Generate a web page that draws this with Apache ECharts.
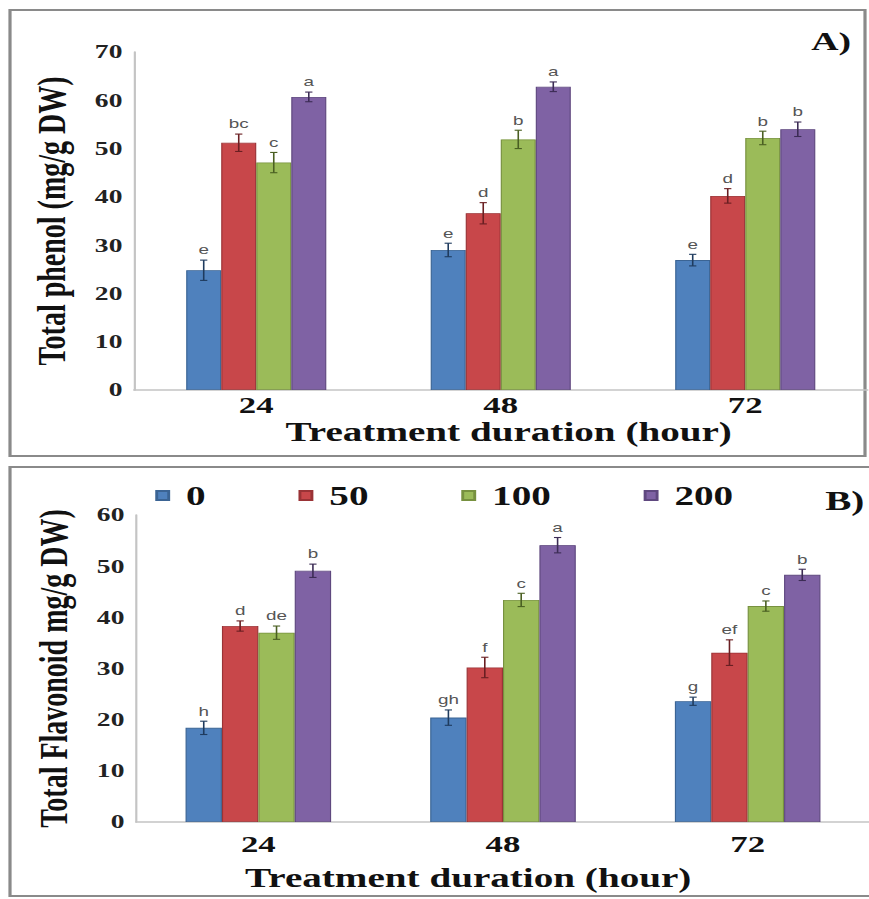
<!DOCTYPE html>
<html><head><meta charset="utf-8">
<script src="https://cdn.jsdelivr.net/npm/echarts@6/dist/echarts.min.js"></script>
<style>
html,body{margin:0;padding:0;background:#fff;overflow:hidden;width:869px;height:899px}
#wrap{width:869px;height:899px;overflow:hidden;position:relative}
#chart{width:600px;height:899px;transform:scaleX(1.45);transform-origin:0 0;position:absolute;left:0;top:0}
</style></head><body><div id="wrap"><div id="chart"></div></div>
<script>
// ---- data ----
const categories = ['24', '48', '72'];
const seriesNames = ['0', '50', '100', '200'];

const phenol0   = [24.8, 29.0, 26.9];
const phenol50  = [51.2, 36.6, 40.2];
const phenol100 = [47.1, 51.9, 52.2];
const phenol200 = [60.7, 62.8, 54.0];
const phenolErr0   = [2.1, 1.4, 1.2];
const phenolErr50  = [1.8, 2.2, 1.5];
const phenolErr100 = [2.1, 1.9, 1.4];
const phenolErr200 = [1.0, 1.0, 1.5];
const phenolLetters0   = ['e', 'e', 'e'];
const phenolLetters50  = ['bc', 'd', 'd'];
const phenolLetters100 = ['c', 'b', 'b'];
const phenolLetters200 = ['a', 'a', 'b'];

const flav0   = [18.4, 20.4, 23.6];
const flav50  = [38.3, 30.2, 33.1];
const flav100 = [37.0, 43.4, 42.2];
const flav200 = [49.1, 54.1, 48.3];
const flavErr0   = [1.3, 1.5, 0.8];
const flavErr50  = [1.0, 2.0, 2.5];
const flavErr100 = [1.3, 1.3, 1.0];
const flavErr200 = [1.3, 1.5, 1.1];
const flavLetters0   = ['h', 'gh', 'g'];
const flavLetters50  = ['d', 'f', 'ef'];
const flavLetters100 = ['de', 'c', 'c'];
const flavLetters200 = ['b', 'a', 'b'];

const phenolTicks = { min: 0, max: 70, interval: 10 };
const flavTicks = { min: 0, max: 60, interval: 10 };

// ---- styling ----
const S = 1.45; // horizontal stretch of the reference figure
const px = v => v / S;
const colors = ['#4F81BD', '#C8474A', '#9BBB59', '#7F62A4'];
const borders = ['#3b6494', '#9a3336', '#77913f', '#5f487f'];
const errColors = ['#1f3b5e', '#6a1f22', '#4a5f22', '#3c2c55'];
const serif = '"Liberation Serif", "Times New Roman", serif';

const phenolVals = [phenol0, phenol50, phenol100, phenol200];
const phenolErrs = [phenolErr0, phenolErr50, phenolErr100, phenolErr200];
const phenolLets = [phenolLetters0, phenolLetters50, phenolLetters100, phenolLetters200];
const flavVals = [flav0, flav50, flav100, flav200];
const flavErrs = [flavErr0, flavErr50, flavErr100, flavErr200];
const flavLets = [flavLetters0, flavLetters50, flavLetters100, flavLetters200];

const gapTop = 0.427, gapBot = 0.405;

function bars(vals, idx, gap) {
  return vals.map((v, s) => ({
    name: seriesNames[s], type: 'bar', xAxisIndex: idx, yAxisIndex: idx,
    data: v, barGap: '0%', barCategoryGap: (gap * 100) + '%',
    itemStyle: { color: colors[s], borderColor: borders[s], borderWidth: 0.8 },
    silent: true
  }));
}

function errSeries(vals, errs, lets, gap, idx) {
  const data = [];
  for (let s = 0; s < 4; s++) for (let c = 0; c < 3; c++) data.push([c, vals[s][c], errs[s][c], s]);
  return {
    type: 'custom', xAxisIndex: idx, yAxisIndex: idx, z: 10, silent: true,
    encode: { x: 0, y: 1 }, data,
    renderItem(params, api) {
      const c = api.value(0), v = api.value(1), e = api.value(2), s = api.value(3);
      const band = api.size([1, 0])[0];
      const group = band * (1 - gap);
      const bw = group / 4;
      const cx = api.coord([c, v])[0] - group / 2 + bw * (s + 0.5);
      const yt = api.coord([c, v + e])[1], yb = api.coord([c, v - e])[1];
      const cap = 2.5, col = errColors[s];
      const ls = { stroke: col, lineWidth: 1.1 };
      return { type: 'group', children: [
        { type: 'line', shape: { x1: cx, y1: yt, x2: cx, y2: yb }, style: ls },
        { type: 'line', shape: { x1: cx - cap, y1: yt, x2: cx + cap, y2: yt }, style: ls },
        { type: 'line', shape: { x1: cx - cap, y1: yb, x2: cx + cap, y2: yb }, style: ls },
        { type: 'text', x: cx, y: yt - 4, style: { text: lets[s][c], fill: '#555',
          font: '13px "Liberation Sans", Arial, sans-serif', align: 'center', verticalAlign: 'bottom' } }
      ] };
    }
  };
}

function xAxis(idx, margin, nameGap, pad) {
  return {
    type: 'category', gridIndex: idx, data: categories,
    axisLine: { lineStyle: { color: '#c4c4c4', width: 1.5 } },
    axisTick: { show: false },
    axisLabel: { fontFamily: serif, fontWeight: 'bold', fontSize: 24, color: '#111', margin },
    name: 'Treatment duration (hour)', nameLocation: 'middle', nameGap,
    nameTextStyle: { fontFamily: serif, fontWeight: 'bold', fontSize: 27, color: '#111', padding: pad }
  };
}
function yAxis(idx, ticks, name) {
  return {
    type: 'value', gridIndex: idx, min: ticks.min, max: ticks.max, interval: ticks.interval,
    axisLine: { show: true, lineStyle: { color: '#c4c4c4', width: 1.5 } },
    axisTick: { show: false }, splitLine: { show: false },
    axisLabel: { fontFamily: serif, fontWeight: 'bold', fontSize: 19, color: '#222', margin: 8 },
    name, nameLocation: 'middle', nameGap: 43,
    nameTextStyle: { fontFamily: serif, fontWeight: 'bold', fontSize: 28, color: '#111' }
  };
}

const chart = echarts.init(document.getElementById('chart'), null, { renderer: 'svg' });
chart.setOption({
  animation: false,
  backgroundColor: '#fff',
  title: [
    { text: 'A)', left: px(804), top: 23, textStyle: { fontFamily: serif, fontWeight: 'bold', fontSize: 26, color: '#111' } },
    { text: 'B)', left: px(818), top: 482, textStyle: { fontFamily: serif, fontWeight: 'bold', fontSize: 27, color: '#111' } }
  ],
  legend: {
    data: seriesNames, left: px(148), top: 477, icon: 'rect',
    itemWidth: px(12), itemHeight: 9, itemGap: 64, selectedMode: false,
    textStyle: { fontFamily: serif, fontWeight: 'bold', fontSize: 27, color: '#111', padding: [0, 0, 0, 7] }
  },
  grid: [
    { left: px(134), width: px(733.5), top: 52, height: 338 },
    { left: px(136), width: px(756), top: 515, height: 307 }
  ],
  xAxis: [ xAxis(0, 3, 27, [0, 0, 0, 11]), xAxis(1, 10, 42, [0, 48, 0, 0]) ],
  yAxis: [ yAxis(0, phenolTicks, 'Total phenol (mg/g DW)'), yAxis(1, flavTicks, 'Total Flavonoid mg/g DW)') ],
  graphic: [
    { type: 'rect', silent: true, z: -1, shape: { x: px(10), y: 10, width: px(855), height: 446 },
      style: { fill: 'none', stroke: '#8a8a8a', lineWidth: 2.2 } },
    { type: 'rect', silent: true, z: -1, shape: { x: px(10), y: 467, width: px(900), height: 429 },
      style: { fill: 'none', stroke: '#8a8a8a', lineWidth: 2.2 } }
  ],
  series: [
    ...bars(phenolVals, 0, gapTop),
    ...bars(flavVals, 1, gapBot),
    errSeries(phenolVals, phenolErrs, phenolLets, gapTop, 0),
    errSeries(flavVals, flavErrs, flavLets, gapBot, 1)
  ]
});
</script></body></html>
